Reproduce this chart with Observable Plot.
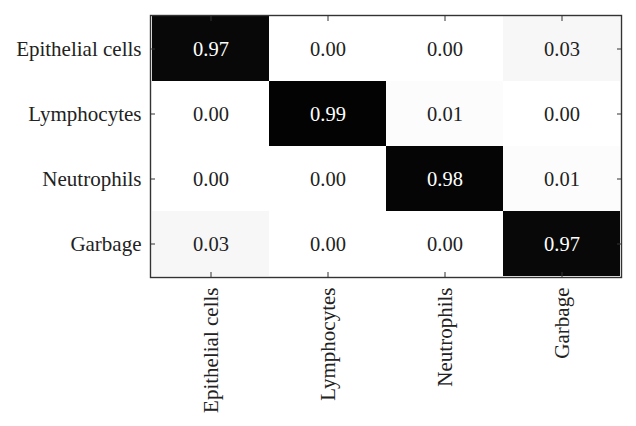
<!DOCTYPE html>
<html><head><meta charset="utf-8">
<script src="https://cdn.jsdelivr.net/npm/d3@7"></script>
<script src="https://cdn.jsdelivr.net/npm/@observablehq/plot@0.6"></script>
<style>body{margin:0;background:#fff}</style>
</head><body><div id="chart"></div>
<script>
const classes = ["Epithelial cells", "Lymphocytes", "Neutrophils", "Garbage"];
const epithelialRow = [0.97, 0.00, 0.00, 0.03];
const lymphocytesRow = [0.00, 0.99, 0.01, 0.00];
const neutrophilsRow = [0.00, 0.00, 0.98, 0.01];
const garbageRow = [0.03, 0.00, 0.00, 0.97];
const rows = [epithelialRow, lymphocytesRow, neutrophilsRow, garbageRow];

const data = [];
rows.forEach((r, i) => r.forEach((v, j) => data.push({actual: classes[i], predicted: classes[j], value: v})));

const blank = () => "";
const chart = Plot.plot({
  width: 636, height: 426,
  marginLeft: 150, marginTop: 15, marginRight: 15, marginBottom: 149,
  style: {fontFamily: "'Liberation Serif', serif", fontSize: "21px", color: "#222", background: "white"},
  x: {domain: classes, padding: 0, label: null, axis: null},
  y: {domain: classes, padding: 0, label: null, axis: null},
  color: {type: "linear", domain: [0, 1], range: ["#ffffff", "#000000"]},
  marks: [
    Plot.cell(data, {x: "predicted", y: "actual", fill: "value"}),
    Plot.text(data, {filter: d => d.value > 0.5, x: "predicted", y: "actual", text: d => d.value.toFixed(2), fill: "white", fontSize: 20.5}),
    Plot.text(data, {filter: d => d.value <= 0.5, x: "predicted", y: "actual", text: d => d.value.toFixed(2), fill: "#222", fontSize: 20.5}),
    Plot.frame({stroke: "#333", strokeWidth: 1.4}),
    // labels
    Plot.axisX({anchor: "bottom", tickSize: 0, tickPadding: 10, tickRotate: -90, label: null}),
    Plot.axisY({anchor: "left", tickSize: 0, tickPadding: 9, label: null}),
    // inward ticks
    Plot.axisX({anchor: "bottom", tickSize: 5, dy: -5, tickFormat: blank, label: null, stroke: "#333"}),
    Plot.axisX({anchor: "top", tickSize: 5, dy: 5, tickFormat: blank, label: null, stroke: "#333"}),
    Plot.axisY({anchor: "left", tickSize: 5, dx: 5, tickFormat: blank, label: null, stroke: "#333"}),
    Plot.axisY({anchor: "right", tickSize: 5, dx: -5, tickFormat: blank, label: null, stroke: "#333"})
  ]
});
document.getElementById("chart").appendChild(chart);
</script>
</body></html>
